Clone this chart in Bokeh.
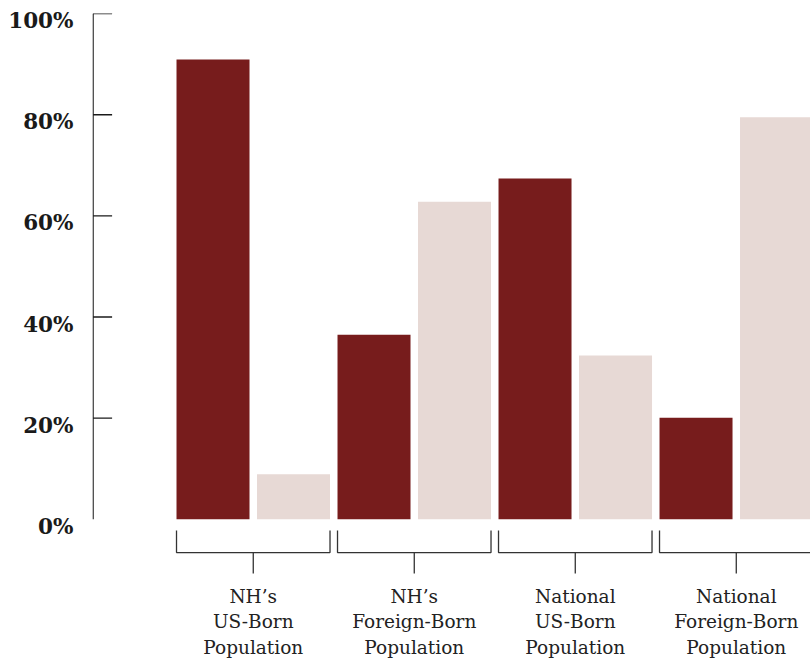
from bokeh.plotting import figure
from bokeh.models import FixedTicker, LinearAxis, Range1d
from bokeh.embed import file_html
from bokeh.resources import INLINE
from bokeh.core.properties import value

# ---- data ----
group_line1 = ["NH’s", "NH’s", "National", "National"]
group_line2 = ["US-Born", "Foreign-Born", "US-Born", "Foreign-Born"]
group_line3 = ["Population", "Population", "Population", "Population"]
dark_values = [90.9, 36.5, 67.4, 20.1]
light_values = [8.9, 62.8, 32.4, 79.5]
tick_values = [0, 20, 40, 60, 80, 100]
tick_labels = ["0%", "20%", "40%", "60%", "80%", "100%"]

DARK = "#771c1c"
LIGHT = "#e7d9d5"
INK = "#1a1a1a"
SERIF = "DejaVu Serif"

n = len(dark_values)
dark_x = [2 * g for g in range(n)]
light_x = [2 * g + 1 for g in range(n)]
centers = [2 * g + 0.5 for g in range(n)]
bar_w = 73 / 80.5
px_per_x = 80.5
px_per_y = 5.057

x_start, x_end = -1.497, 7.422
y_start, y_end = -27.92, 100.02
p = figure(width=810, height=660, x_range=(x_start, x_end), y_range=(y_start, y_end),
           x_axis_location=None, y_axis_location=None,
           toolbar_location=None, output_backend="svg",
           min_border_left=92, min_border_right=0, min_border_top=13, min_border_bottom=0)
p.outline_line_color = None
p.xgrid.grid_line_color = None
p.ygrid.grid_line_color = None
p.background_fill_color = "white"

# label axis: range shifted so labels sit ~7px below their tick marks, as in the original
lab_shift = 7 / px_per_y
p.extra_y_ranges = {"lab": Range1d(start=y_start + lab_shift, end=y_end + lab_shift)}
ax = LinearAxis(y_range_name="lab", ticker=FixedTicker(ticks=tick_values),
                major_label_overrides={v: s for v, s in zip(tick_values, tick_labels)})
ax.axis_line_color = None
ax.major_tick_line_color = None
ax.minor_tick_line_color = None
ax.major_label_standoff = 13
ax.major_label_text_font = SERIF
ax.major_label_text_font_size = "21.5px"
ax.major_label_text_font_style = "bold"
ax.major_label_text_color = INK
p.add_layout(ax, "left")

# axis line and inward ticks (none at 0)
x_line = x_start + 0.6 / px_per_x
p.segment(x0=[x_line], x1=[x_line], y0=[tick_values[0]], y1=[tick_values[-1]], line_color=INK, line_width=1.3)
p.segment(x0=[x_line] * (len(tick_values) - 1), x1=[x_line + 19 / px_per_x] * (len(tick_values) - 1),
          y0=tick_values[1:], y1=tick_values[1:], line_color=INK, line_width=1.3)

# bars
p.vbar(x=dark_x, top=dark_values, bottom=0, width=bar_w, fill_color=DARK, line_color=None)
p.vbar(x=light_x, top=light_values, bottom=0, width=bar_w, fill_color=LIGHT, line_color=None)

# brackets
y_top, y_mid, y_stem = -2.2, -6.57, -10.7
xs, ys = [], []
for g in range(n):
    left = dark_x[g] - bar_w / 2
    right = light_x[g] + bar_w / 2
    xs.append([left, left, right, right])
    ys.append([y_top, y_mid, y_mid, y_top])
p.multi_line(xs=xs, ys=ys, line_color="#333333", line_width=1.3)
p.segment(x0=centers, x1=centers, y0=[y_mid] * n, y1=[y_stem] * n, line_color="#333333", line_width=1.3)

# category labels
for texts, yy in ((group_line1, -15.3), (group_line2, -20.3), (group_line3, -25.4)):
    p.text(x=centers, y=[yy] * n, text=texts, text_align="center", text_baseline="middle",
           text_font=value(SERIF), text_font_size="18.5px", text_color="#222222")

open("out.html", "w").write(file_html(p, INLINE))
